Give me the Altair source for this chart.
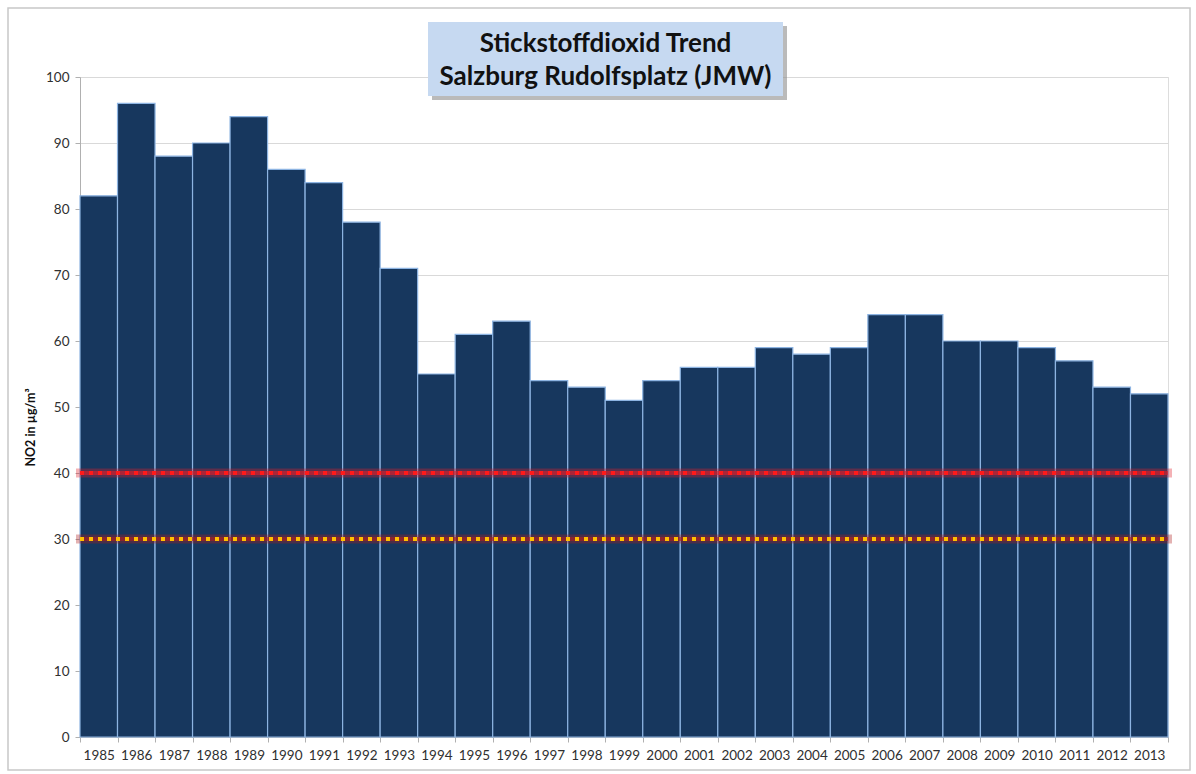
import altair as alt
import pandas as pd

years = [str(y) for y in range(1985, 2014)]
no2 = [82, 96, 88, 90, 94, 86, 84, 78, 71, 55, 61, 63, 54, 53, 51, 54, 56, 56,
       59, 58, 59, 64, 64, 60, 60, 59, 57, 53, 52]
limit_red = [40]
limit_yellow = [30]
title_lines = ["Stickstoffdioxid Trend", "Salzburg Rudolfsplatz (JMW)"]

W, H = 1088, 660

df = pd.DataFrame({"Jahr": years, "NO2": no2})
red_df = pd.DataFrame({"v": limit_red})
yel_df = pd.DataFrame({"v": limit_yellow})
title_df = pd.DataFrame({"t": title_lines, "i": [0, 1]})

yscale = alt.Scale(domain=[0, 100], nice=False)

frame = alt.Chart(pd.DataFrame({"a": [0]})).mark_rect(
    fillOpacity=0, stroke="#c8c8c8", strokeWidth=1.5
).encode(x=alt.value(-72), x2=alt.value(W + 22), y=alt.value(-69), y2=alt.value(H + 33))

bars = alt.Chart(df).mark_bar(
    color="#17375E", stroke="#8DB4E2", strokeWidth=1.2
).encode(
    x=alt.X("Jahr:N", sort=years,
            scale=alt.Scale(paddingInner=0, paddingOuter=0),
            axis=alt.Axis(title=None, labelAngle=0, labelFontSize=13.5, labelColor="#303030",
                          labelFont="Lato", labelPadding=6, tickBand="extent",
                          ticks=True, tickSize=5, tickColor="#b0b0b0",
                          domainColor="#b0b0b0", grid=False)),
    y=alt.Y("NO2:Q", scale=yscale,
            axis=alt.Axis(title="NO2 in µg/m³", values=list(range(0, 101, 10)),
                          labelFontSize=13.5, labelColor="#303030", labelFont="Lato",
                          labelPadding=6, tickSize=5, tickColor="#b0b0b0",
                          domainColor="#b0b0b0", gridColor="#d9d9d9",
                          titleFont="Lato", titleFontSize=12.5, titleFontWeight="bold",
                          titleColor="#111111", titleX=-50, titleY=350,
                          titleAlign="center", titleBaseline="middle")),
)

def limit_layers(d, dot_color, glow_color):
    glow = alt.Chart(d).mark_rule(color=glow_color, strokeWidth=9, opacity=0.35).encode(
        y=alt.Y("v:Q", scale=yscale), x=alt.value(-4), x2=alt.value(W + 4))
    core = alt.Chart(d).mark_rule(color=glow_color, strokeWidth=4, opacity=0.6).encode(
        y=alt.Y("v:Q", scale=yscale), x=alt.value(0), x2=alt.value(W))
    dots = alt.Chart(d).mark_rule(color=dot_color, strokeWidth=4, strokeDash=[4, 5],
                                  strokeCap="butt").encode(
        y=alt.Y("v:Q", scale=yscale), x=alt.value(0), x2=alt.value(W))
    return [glow, core, dots]

red_layers = limit_layers(red_df, "#FF1A1A", "#E0202A")
yel_layers = limit_layers(yel_df, "#FFC000", "#B02020")

box_shadow = alt.Chart(pd.DataFrame({"a": [0]})).mark_rect(fill="#8c8c8c", opacity=0.6).encode(
    x=alt.value(352), x2=alt.value(707), y=alt.value(-51), y2=alt.value(23))
box = alt.Chart(pd.DataFrame({"a": [0]})).mark_rect(fill="#C6D9F1").encode(
    x=alt.value(348), x2=alt.value(703), y=alt.value(-55), y2=alt.value(19))
t1 = alt.Chart(title_df.iloc[[0]]).mark_text(
    font="Lato", fontSize=26, fontWeight="bold", color="#111111", align="center",
    baseline="middle").encode(text="t:N", x=alt.value(525.5), y=alt.value(-33))
t2 = alt.Chart(title_df.iloc[[1]]).mark_text(
    font="Lato", fontSize=26, fontWeight="bold", color="#111111", align="center",
    baseline="middle").encode(text="t:N", x=alt.value(525.5), y=alt.value(0))

chart = alt.layer(frame, bars, *red_layers, *yel_layers, box_shadow, box, t1, t2).properties(
    width=W, height=H,
    autosize=alt.AutoSizeParams(type="none"),
    padding={"left": 80, "top": 77, "right": 28, "bottom": 37},
).configure_view(stroke=None).configure(background="white")

chart.save("out.html", embed_options={"renderer": "svg", "actions": False})
